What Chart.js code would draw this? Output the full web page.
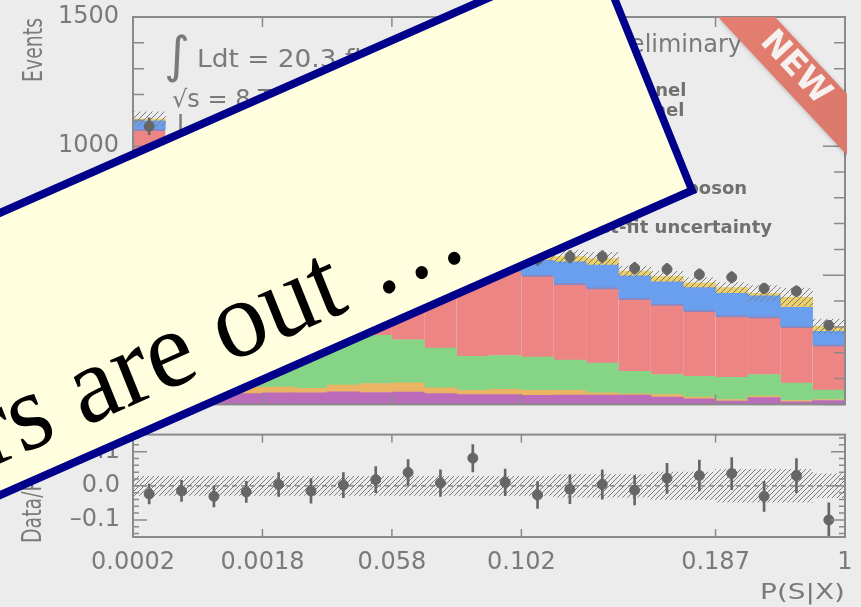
<!DOCTYPE html>
<html>
<head>
<meta charset="utf-8">
<script src="https://cdn.jsdelivr.net/npm/chart.js@4.4.0/dist/chart.umd.min.js"></script>
<style>
  html, body { margin: 0; padding: 0; background: #ececec; }
  #wrap { position: relative; width: 861px; height: 607px; overflow: hidden; }
  #wrap canvas { position: absolute; left: 0; }
  #top { top: 0; }
  #ratio { top: 420px; }
  #banner { top: 0; pointer-events: none; }
</style>
</head>
<body>
<div id="wrap">
  <canvas id="top" width="861" height="420"></canvas>
  <canvas id="ratio" width="861" height="187"></canvas>
  <canvas id="banner" width="861" height="607"></canvas>
</div>
<script>
// 1. DADOS - 22 bins de P(S|X), eixo x = índice do bin
const edgeTicks  = [0, 4, 8, 12, 18, 22];
const edgeLabels = ['0.0002', '0.0018', '0.058', '0.102', '0.187', '1'];

// fundos empilhados, de baixo para cima
const wjets   = [20, 30, 38, 42, 45, 45, 49, 46, 48, 42, 38, 38, 35, 36, 36, 36, 28, 22, 13, 26, 10, 15];
const zjets   = [15, 25, 24, 24, 22, 17, 26, 35, 36, 22, 16, 20, 19, 18, 9, 5, 10, 6, 6, 6, 5, 4];
const topq    = [80, 175, 198, 209, 213, 223, 205, 186, 166, 154, 132, 131, 129, 118, 115, 87, 77, 81, 86, 83, 68, 36];
const ww      = [950, 460, 380, 325, 290, 270, 265, 273, 285, 312, 339, 331, 318, 297, 292, 283, 273, 255, 239, 225, 219, 176];
const diboson = [33, 55, 50, 55, 55, 60, 60, 60, 60, 60, 60, 58, 57, 83, 87, 87, 87, 88, 86, 80, 74, 52];
const higgs   = [7, 15, 10, 15, 15, 20, 20, 20, 20, 20, 18, 18, 20, 20, 26, 18, 20, 19, 22, 10, 39, 19];

const dataEvt = [1077, 749, 678, 658, 643, 625, 626, 631, 639, 615, 652, 602, 562, 572, 572, 527, 523, 503, 492, 449, 438, 306];
const dataErr = [33, 27, 26, 26, 25, 25, 25, 25, 25, 25, 26, 25, 24, 24, 24, 23, 23, 22, 22, 21, 21, 17];
const sysUnc  = [28, 25, 24, 23, 22, 22, 22, 22, 22, 22, 22, 22, 22, 24, 24, 20, 20, 20, 20, 30, 35, 28];
const yTicks  = [0, 500, 1000, 1500];

const ratio    = [-0.024, -0.015, -0.031, -0.018, 0.004, -0.015, 0.002, 0.018, 0.039, 0.008, 0.081, 0.010, -0.027, -0.010, 0.004, -0.013, 0.022, 0.030, 0.036, -0.031, 0.030, -0.100];
const ratioErr = [0.029, 0.031, 0.031, 0.031, 0.035, 0.036, 0.037, 0.038, 0.038, 0.039, 0.040, 0.039, 0.039, 0.042, 0.043, 0.043, 0.044, 0.045, 0.047, 0.044, 0.050, 0.050];
const ratioUnc = [0.028, 0.028, 0.028, 0.028, 0.028, 0.028, 0.028, 0.028, 0.028, 0.028, 0.028, 0.028, 0.028, 0.033, 0.033, 0.033, 0.040, 0.040, 0.048, 0.048, 0.048, 0.035];
const ratioTicks      = [-0.1, 0, 0.1];
const ratioTickLabels = ['–0.1', '0.0', '0.1'];

const legendItems = ['Data', 'μμ channel', 'ee channel', 'WW', 'Top', 'Z/γ*', 'Non-WW diboson', 'W+jets', 'Post-fit uncertainty'];

// 2. AJUDANTES
const FONT = '"DejaVu Sans"';
const GREY = '#7a7a7a';
const xy = arr => arr.map((v, i) => ({ x: i + 0.5, y: v }));
const spread = (c, e) => c.map((v, i) => ({ x: i + 0.5, y: [v - e[i], v + e[i]] }));
const totals = wjets.map((_, i) => wjets[i] + zjets[i] + topq[i] + ww[i] + diboson[i] + higgs[i]);

function hatch(canvasId, s) {
  const c = document.createElement('canvas');
  c.width = c.height = s;
  const g = c.getContext('2d');
  g.strokeStyle = '#7c7c7c'; g.lineWidth = 1;
  g.beginPath();
  g.moveTo(0, s); g.lineTo(s, 0);
  g.moveTo(-1, 1); g.lineTo(1, -1);
  g.moveTo(s - 1, s + 1); g.lineTo(s + 1, s - 1);
  g.stroke();
  return document.getElementById(canvasId).getContext('2d').createPattern(c, 'repeat');
}

function put(ctx, txt, x, y, font, o = {}) {
  ctx.save();
  ctx.translate(x, y);
  if (o.rot) ctx.rotate(o.rot);
  if (o.sx) ctx.scale(o.sx, 1);
  ctx.font = font;
  ctx.fillStyle = o.color || GREY;
  ctx.textAlign = o.align || 'left';
  ctx.textBaseline = o.base || 'alphabetic';
  ctx.fillText(txt, 0, 0);
  ctx.restore();
}

const layer = (label, arr, color, extra = {}) => Object.assign({
  label, data: xy(arr), backgroundColor: color, stack: 'main',
  barPercentage: 1, categoryPercentage: 1, borderWidth: 0
}, extra);

// molduras + marcas de escala para dentro
function frame(minorStep, majorEvery, minorLen, majorLen, xLen) {
  return {
    id: 'frame',
    afterDatasetsDraw(chart) {
      const { ctx, chartArea: a, scales: { x, y } } = chart;
      ctx.save();
      ctx.strokeStyle = '#8a8a8a';
      ctx.lineWidth = 1.5;
      ctx.beginPath();
      edgeTicks.forEach(v => {
        const px = x.getPixelForValue(v);
        ctx.moveTo(px, a.bottom); ctx.lineTo(px, a.bottom - xLen);
        ctx.moveTo(px, a.top); ctx.lineTo(px, a.top + xLen);
      });
      const k0 = Math.ceil(y.min / minorStep - 1e-9), k1 = Math.floor(y.max / minorStep + 1e-9);
      for (let k = k0; k <= k1; k++) {
        const py = y.getPixelForValue(k * minorStep);
        const L = k % majorEvery === 0 ? majorLen : minorLen;
        ctx.moveTo(a.left, py); ctx.lineTo(a.left + L, py);
        ctx.moveTo(a.right, py); ctx.lineTo(a.right - L, py);
      }
      ctx.stroke();
      ctx.lineWidth = 2;
      ctx.strokeRect(a.left, a.top, a.right - a.left, a.bottom - a.top);
      ctx.restore();
    }
  };
}

// 3. PAINEL SUPERIOR
const topLabels = {
  id: 'topLabels',
  afterDraw(chart) {
    const ctx = chart.ctx;
    put(ctx, 'Events', 42, 18, `27px ${FONT}`, { rot: -Math.PI / 2, sx: 0.7, align: 'right' });
    put(ctx, '∫', 164, 72, `50px ${FONT}`);
    ctx.font = `24px ${FONT}`;
    const w = ctx.measureText('Ldt = 20.3 fb').width * 1.1;
    put(ctx, 'Ldt = 20.3 fb', 197, 67, `24px ${FONT}`, { sx: 1.1 });
    put(ctx, '−1', 199 + w, 55, `15px ${FONT}`);
    put(ctx, '√s = 8 TeV', 172, 107, `24px ${FONT}`);
    put(ctx, 'L  channel', 177, 132, `24px ${FONT}`);
    ctx.font = `24px ${FONT}`;
    const wp = ctx.measureText('Preliminary').width;
    put(ctx, 'Preliminary', 742, 52, `24px ${FONT}`, { align: 'right' });
    put(ctx, 'ATLAS', 742 - wp - 8, 52, `italic bold 24px ${FONT}`, { align: 'right', color: '#555' });
    const cols = ['#666', '#ecd068', '#6a9eee', '#ee8585', '#86d486', '#eab464', '#6a9eee', '#ba6cba', null];
    legendItems.forEach((t, i) => {
      const yy = 72 + i * 19.5;
      if (cols[i]) { ctx.fillStyle = cols[i]; ctx.fillRect(540, yy - 7, 24, 14); }
      put(ctx, t, 574, yy, `bold 18px ${FONT}`, { base: 'middle', color: '#707070' });
    });
  }
};

new Chart(document.getElementById('top'), {
  type: 'bar',
  data: {
    datasets: [
      { type: 'scatter', label: 'Data', data: xy(dataEvt), backgroundColor: '#666', borderColor: '#666',
        pointRadius: 5, pointHoverRadius: 5, stack: 'pts' },
      { label: 'stat', data: spread(dataEvt, dataErr), backgroundColor: '#666', grouped: false,
        maxBarThickness: 2, barPercentage: 1, categoryPercentage: 1, stack: 'err' },
      { label: 'Post-fit uncertainty', data: spread(totals, sysUnc), backgroundColor: hatch('top', 6),
        grouped: false, barPercentage: 1, categoryPercentage: 1, stack: 'unc' },
      layer('W+jets', wjets, '#ba6cba'),
      layer('Z/γ*', zjets, '#eab464'),
      layer('Top', topq, '#86d486'),
      layer('WW', ww, '#ee8585', { borderWidth: { top: 2, left: 0, right: 0, bottom: 0 }, borderColor: '#8a88c0' }),
      layer('Non-WW diboson', diboson, '#6a9eee'),
      layer('Signal', higgs, '#ecd068')
    ]
  },
  options: {
    responsive: false,
    animation: false,
    layout: { padding: { top: 17, right: 16, bottom: 13, left: 0 } },
    plugins: { legend: { display: false }, tooltip: { enabled: false } },
    scales: {
      x: { type: 'linear', min: 0, max: 22, offset: false, display: false, stacked: true },
      y: {
        min: 0, max: 1500, stacked: true,
        grid: { display: false }, border: { display: false },
        afterBuildTicks: s => { s.ticks = yTicks.map(v => ({ value: v })); },
        ticks: {
          color: GREY, padding: 6, font: { family: 'DejaVu Sans', size: 24, lineHeight: 0.8 },
          callback: v => String(v)
        },
        afterFit: s => { s.width = 133; }
      }
    }
  },
  plugins: [frame(100, 5, 11, 22, 10), topLabels]
});

// 4. PAINEL DA RAZÃO
const ratioLabels = {
  id: 'ratioLabels',
  afterDraw(chart) {
    const ctx = chart.ctx;
    put(ctx, 'Data/Pred. − 1', 41, 123, `27px ${FONT}`, { rot: -Math.PI / 2, sx: 0.7 });
    put(ctx, 'P(S|X)', 845, 179, `22px ${FONT}`, { align: 'right', sx: 1.27 });
  }
};

new Chart(document.getElementById('ratio'), {
  type: 'bar',
  data: {
    datasets: [
      { type: 'scatter', label: 'ratio', data: xy(ratio), backgroundColor: '#666', borderColor: '#666',
        pointRadius: 5, pointHoverRadius: 5 },
      { label: 'err', data: spread(ratio, ratioErr), backgroundColor: '#666', grouped: false,
        maxBarThickness: 2, barPercentage: 1, categoryPercentage: 1 },
      { type: 'line', label: 'zero', data: [{ x: 0, y: 0 }, { x: 22, y: 0 }], borderColor: '#777',
        borderWidth: 1.2, borderDash: [5, 4], pointRadius: 0 },
      { label: 'unc', data: spread(ratio.map(() => 0), ratioUnc), backgroundColor: hatch('ratio', 5),
        grouped: false, barPercentage: 1, categoryPercentage: 1 }
    ]
  },
  options: {
    responsive: false,
    animation: false,
    layout: { padding: { top: 10, right: 16, bottom: 0, left: 0 } },
    plugins: { legend: { display: false }, tooltip: { enabled: false } },
    scales: {
      x: {
        type: 'linear', min: 0, max: 22, offset: false,
        grid: { display: false }, border: { display: false },
        afterBuildTicks: s => { s.ticks = edgeTicks.map(v => ({ value: v })); },
        ticks: {
          autoSkip: false, maxRotation: 0, color: GREY, padding: 6,
          font: { family: 'DejaVu Sans', size: 24, lineHeight: 1 },
          callback: v => edgeLabels[edgeTicks.indexOf(v)]
        },
        afterFit: s => { s.height = 70; }
      },
      y: {
        min: -0.15, max: 0.15,
        grid: { display: false }, border: { display: false },
        afterBuildTicks: s => { s.ticks = ratioTicks.map(v => ({ value: v })); },
        ticks: {
          color: GREY, padding: 5, font: { family: 'DejaVu Sans', size: 24, lineHeight: 0.8 },
          callback: v => ratioTickLabels[ratioTicks.indexOf(v)]
        },
        afterFit: s => { s.width = 133; }
      }
    }
  },
  plugins: [frame(0.02, 5, 6, 14, 8), ratioLabels]
});

// 5. SOBREPOSIÇÃO: fita "NEW" e faixa amarela
const ov = document.getElementById('banner').getContext('2d');

ov.save();
ov.beginPath(); ov.rect(133, 17, 714, 390); ov.clip();
ov.beginPath();
ov.moveTo(718, 17); ov.lineTo(775, 17); ov.lineTo(847, 94); ov.lineTo(847, 155); ov.closePath();
ov.shadowColor = 'rgba(0,0,0,0.22)'; ov.shadowBlur = 4; ov.shadowOffsetX = 1; ov.shadowOffsetY = 2;
const grad = ov.createLinearGradient(718, 17, 847, 155);
grad.addColorStop(0, '#e47e70'); grad.addColorStop(1, '#da786b');
ov.fillStyle = grad;
ov.fill();
ov.restore();
put(ov, 'NEW', 795, 68, `bold 33px ${FONT}`, { rot: Math.atan(1.076), align: 'center', base: 'middle', color: '#f6f1ef' });

// faixa: retângulo girado, levemente comprimido na horizontal como na imagem
ov.save();
ov.translate(692, 190.5);
ov.scale(0.958, 1);
ov.rotate(-Math.atan(0.4216));
ov.beginPath();
ov.rect(-1100, -260, 1100, 260);
ov.fillStyle = '#ffffe0';
ov.fill();
ov.lineJoin = 'miter';
ov.lineWidth = 8;
ov.strokeStyle = '#00008b';
ov.stroke();
ov.fillStyle = '#000';
ov.font = '110px "Liberation Serif"';
ov.textAlign = 'right';
ov.fillText('Papers are out …', -237, -29);
ov.restore();
</script>
</body>
</html>
